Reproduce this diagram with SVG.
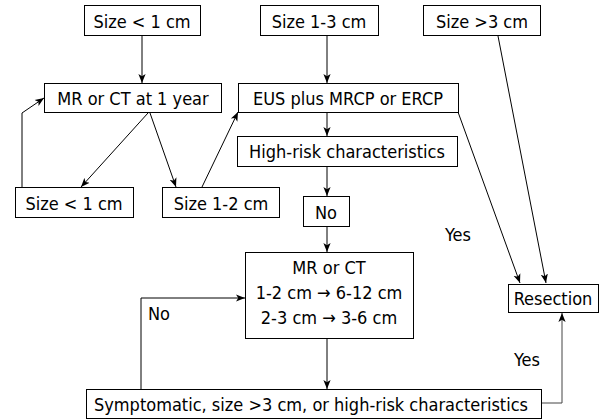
<svg xmlns="http://www.w3.org/2000/svg" width="613" height="420" viewBox="0 0 613 420">
<defs>
<marker id="ah" viewBox="0 0 10 10" refX="10" refY="5" markerWidth="9" markerHeight="9" markerUnits="userSpaceOnUse" orient="auto">
<path d="M0,1 L10,5 L0,9 L2.5,5 Z" fill="#000"/>
</marker>
</defs>
<style>
rect{fill:#fff;stroke:#000;stroke-width:1}
text{font-family:"DejaVu Sans Condensed","DejaVu Sans",sans-serif;font-size:18px;fill:#000;text-anchor:middle}
.c{fill:none;stroke:#000;stroke-width:1;marker-end:url(#ah)}
</style>
<rect width="613" height="420" style="fill:#fff;stroke:none"/>
<g id="connectors">
<line class="c" x1="142" y1="36" x2="142" y2="83"/>
<line class="c" x1="327" y1="36" x2="327" y2="83"/>
<line class="c" x1="327" y1="112" x2="327" y2="136"/>
<line class="c" x1="327" y1="166" x2="327" y2="196"/>
<line class="c" x1="327" y1="227" x2="327" y2="252"/>
<line class="c" x1="327" y1="338" x2="327" y2="389"/>
<line class="c" x1="148" y1="113" x2="81" y2="187"/>
<line class="c" x1="150" y1="113" x2="176" y2="187"/>
<line class="c" x1="202" y1="187" x2="238" y2="112"/>
<polyline class="c" points="22,187 22,113 44,98"/>
<line class="c" x1="498" y1="36" x2="546" y2="283"/>
<line class="c" x1="458" y1="112" x2="520" y2="283"/>
<polyline class="c" points="541,403 562,403 562,313" style="stroke:#444"/>
<polyline class="c" points="141,389 141,298 245,298"/>
</g>
<g id="n1"><rect x="84.5" y="5.5" width="116" height="30"/><text x="142" y="28">Size &lt; 1 cm</text></g>
<g id="n2"><rect x="260.5" y="5.5" width="118" height="30"/><text x="319" y="28">Size 1-3 cm</text></g>
<g id="n3"><rect x="423.5" y="5.5" width="117" height="30"/><text x="482" y="28">Size &gt;3 cm</text></g>
<g id="n4"><rect x="44.5" y="83.5" width="177" height="29"/><text x="133" y="105">MR or CT at 1 year</text></g>
<g id="n5"><rect x="238.5" y="83.5" width="220" height="29"/><text x="348" y="105">EUS plus MRCP or ERCP</text></g>
<g id="n6"><rect x="237.5" y="136.5" width="220" height="30"/><text x="347" y="158">High-risk characteristics</text></g>
<g id="n7"><rect x="15.5" y="187.5" width="118" height="30"/><text x="74" y="210">Size &lt; 1 cm</text></g>
<g id="n8"><rect x="162.5" y="187.5" width="117" height="30"/><text x="221" y="210">Size 1-2 cm</text></g>
<g id="n9"><rect x="303.5" y="196.5" width="46" height="30"/><text x="326" y="219">No</text></g>
<g id="n10"><rect x="245.5" y="252.5" width="168" height="86"/>
<text x="329" y="274">MR or CT</text>
<text x="329" y="299">1-2 cm → 6-12 cm</text>
<text x="329" y="324">2-3 cm → 3-6 cm</text></g>
<g id="n11"><rect x="508.5" y="284.5" width="90" height="28"/><text x="553" y="305">Resection</text></g>
<g id="n12"><rect x="86.5" y="389.5" width="455" height="29"/><text x="311" y="411">Symptomatic, size &gt;3 cm, or high-risk characteristics</text></g>
<g id="labels">
<text x="458" y="241">Yes</text>
<text x="527" y="366">Yes</text>
<text x="159" y="320">No</text>
</g>
</svg>
